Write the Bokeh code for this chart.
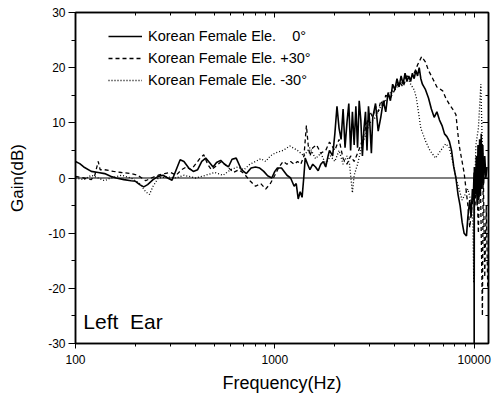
from bokeh.plotting import figure
from bokeh.models import (LogAxis, LinearAxis, LogTicker, SingleIntervalTicker, Span,
                          Legend, LegendItem, Label, PrintfTickFormatter, Range1d)
from bokeh.embed import file_html
from bokeh.resources import INLINE

series_names = ["Korean Female Ele.    0\u00b0", "Korean Female Ele. +30\u00b0", "Korean Female Ele. -30\u00b0"]

freq_0 = [100, 105, 110, 120, 130, 140, 150, 160, 175, 190, 200, 210, 220, 230, 245, 260, 275, 290, 305,
          320, 335, 350, 370, 390, 410, 430, 450, 470, 490, 510, 535, 560, 585, 610, 640, 680, 720, 760,
          800, 840, 880, 920, 965, 1000, 1030, 1080, 1150, 1200, 1250, 1280, 1310, 1340, 1370, 1400, 1420,
          1460, 1500, 1550, 1600, 1650, 1700, 1750, 1800, 1850, 1880, 1950, 2000, 2050, 2100, 2150, 2200,
          2250, 2300, 2350, 2400, 2450, 2500, 2550, 2600, 2650, 2700, 2750, 2800, 2850, 2900, 2950, 3000,
          3050, 3100, 3200, 3300, 3400, 3500, 3600, 3700, 3800, 3900, 4000, 4100, 4200, 4300, 4400, 4500,
          4600, 4700, 4800, 4900, 5000, 5100, 5200, 5300, 5400, 5500, 5700, 5900, 6100, 6300, 6500, 6700,
          6900, 7100, 7300, 7500, 7700, 7900, 8100, 8300, 8500, 8700, 8900, 9150, 9300, 9500, 9650, 9800,
          9900, 9980, 10000, 10020, 10150, 10250, 10350, 10450, 10550, 10650, 10750, 10850, 10950, 11050,
          11150, 11300, 11450, 11600]
gain_0 = [3.0, 2.6, 2.0, 1.2, 1.0, 0.8, 0.3, 0.0, -0.3, -0.5, -0.6, -1.2, -1.6, -1.2, -0.3, 0.3, 0.5, 0.0, -0.4,
          1.5, 3.3, 3.0, 1.8, 1.2, 1.5, 3.0, 3.6, 2.8, 2.0, 2.8, 3.2, 2.5, 2.0, 3.4, 3.6, 1.5, 0.8, 1.8,
          2.0, 1.8, 1.2, 0.4, 0.0, 1.2, 1.8, 1.8, 0.5, 0.0, -1.5, -1.0, -3.8, -2.5, -3.5, 0.5, 3.6,
          2.5, 1.5, 2.5, 2.0, 1.3, 2.5, 3.0, 2.0, 4.0, 5.0, 4.0, 8.0, 13.0, 9.0, 7.0, 12.5,
          5.5, 10.0, 13.5, 5.0, 12.0, 6.0, 13.0, 5.5, 14.0, 10.5, 4.0, 9.0, 12.0, 5.0, 13.0, 9.5,
          4.5, 11.0, 13.5, 8.5, 11.0, 14.0, 12.0, 15.5, 14.0, 17.0, 16.0, 18.0, 16.5, 18.5, 17.0, 19.0,
          17.5, 18.5, 17.5, 19.0, 18.0, 19.5, 18.5, 20.0, 18.0, 17.0, 16.0, 14.5, 12.5, 11.0, 12.0, 10.5,
          9.5, 8.0, 7.5, 6.7, 5.0, 2.0, 0.0, -3.0, -5.0, -8.0, -10.0, -10.5, -7.0, -4.0, -7.0, -2.0,
          -4.0, 1.0, -30.0, 2.0, -3.0, 4.0, -5.0, 6.0, -4.0, 7.0, -3.0, 8.0, -2.0, 6.0,
          -1.0, 4.0, 0.0, 2.0]

freq_p30 = [100, 110, 120, 125, 130, 133, 140, 155, 170, 190, 205, 215, 225, 240, 260, 280, 300, 320, 340,
            360, 380, 400, 420, 440, 460, 480, 500, 540, 580, 620, 660, 700, 750, 800, 850, 900, 950, 1000,
            1050, 1100, 1150, 1200, 1250, 1300, 1350, 1400, 1440, 1470, 1500, 1550, 1620, 1700, 1800, 1880,
            2000, 2100, 2200, 2300, 2400, 2500, 2600, 2700, 2800, 2900, 3000, 3100, 3200, 3300, 3400, 3500,
            3600, 3800, 4000, 4200, 4400, 4600, 4800, 5000, 5200, 5450, 5700, 5900, 6200, 6500, 6950, 7200,
            7500, 7800, 8100, 8400, 8900, 9300, 9500, 9700, 9900, 10100, 10300, 10500, 10700, 10900, 11000,
            11100, 11300, 11500, 11700]
gain_p30 = [0.3, 0.0, -0.3, 0.5, 3.0, 1.5, 1.5, 1.2, 1.0, 0.8, 0.5, 0.0, -0.5, 0.0, 0.5, 0.8, 1.0, 0.5, 1.5,
            2.0, 1.5, 2.5, 3.5, 4.2, 2.5, 1.5, 2.0, 3.0, 2.0, 1.0, 1.5, 0.8, -0.5, -1.5, -1.0, -2.0, -1.0, 0.5,
            2.0, 3.0, 2.5, 3.0, 2.5, 3.0, 2.5, 4.0, 9.5, 6.0, 4.0, 5.5, 6.0, 4.5, 5.0, 6.5,
            5.0, 7.0, 3.5, 2.5, 4.0, 3.0, 4.5, 6.0, 8.0, 10.0, 12.0, 11.0, 13.0, 12.0, 14.0, 13.0,
            15.0, 14.5, 16.0, 17.5, 16.5, 18.5, 18.0, 19.0, 20.5, 22.0, 21.0, 19.5, 18.0, 16.5, 15.8, 14.5,
            13.4, 12.5, 11.5, 6.0, 1.0, -5.0, -9.0, -6.0, -3.0, -5.0, 0.0, -10.0, 4.0, -15.0, -25.0,
            2.0, -18.0, -5.0, -20.0]

freq_m30 = [100, 110, 120, 130, 140, 150, 170, 190, 210, 225, 235, 245, 260, 290, 320, 350, 400, 450, 500,
            550, 600, 650, 700, 750, 800, 850, 900, 950, 1000, 1100, 1190, 1300, 1400, 1500, 1600, 1700,
            1800, 1900, 2000, 2100, 2200, 2300, 2370, 2450, 2500, 2600, 2700, 2800, 2900, 3000, 3200, 3400,
            3600, 3800, 4000, 4200, 4400, 4600, 4800, 5000, 5130, 5400, 5700, 6000, 6400, 6800, 7200, 7500,
            7800, 8100, 8400, 8700, 9000, 9300, 9600, 9850, 9950, 10050, 10200, 10500, 10800, 11000, 11200]
gain_m30 = [0.0, -0.3, 0.5, 0.0, -0.5, 0.0, 0.5, 0.0, -1.0, -2.5, -3.0, -1.5, 0.0, 0.2, 0.0, 0.5, 0.0, 0.5, 1.0,
            0.5, 1.5, 2.0, 1.5, 2.5, 3.0, 3.5, 3.0, 4.0, 4.5, 5.0, 5.8, 5.0, 4.0, 5.5, 3.5, 4.5,
            2.5, 4.0, 3.0, 5.0, 2.5, 4.0, 2.5, -2.7, 0.5, 2.5, 5.0, 7.0, 8.5, 10.0, 11.0, 13.0,
            14.0, 15.5, 16.0, 17.0, 17.5, 18.5, 17.0, 16.0, 14.5, 9.0, 6.7, 5.0, 3.6, 5.0, 6.2, 5.5,
            3.0, 0.0, -2.0, -4.0, -3.0, -2.0, -4.0, -8.0, -19.0, -3.0, 6.0, 9.0, 17.0, 5.0, 0.0]

p = figure(width=500, height=396, x_axis_type="log", output_backend="svg", toolbar_location=None,
           x_range=Range1d(100, 11800), y_range=Range1d(-30, 30),
           min_border_left=75, min_border_right=12, min_border_top=12, min_border_bottom=53)
p.background_fill_color = "white"
p.border_fill_color = "white"
p.outline_line_color = "black"
p.outline_line_width = 1.5
p.grid.visible = False

font = "Liberation Sans"

# bottom axis
xa = p.xaxis[0]
xa.ticker = LogTicker(num_minor_ticks=10)
xa.formatter = PrintfTickFormatter(format="%d")
xa.axis_label = "Frequency(Hz)"
xa.axis_label_text_font = font
xa.axis_label_text_font_size = "18px"
xa.axis_label_text_font_style = "normal"
xa.axis_label_text_color = "black"
xa.axis_label_standoff = 6
xa.major_label_text_font = font
xa.major_label_text_font_size = "12px"
xa.major_label_text_color = "black"
xa.major_label_standoff = 6
xa.major_tick_out = 5
xa.major_tick_in = 0
xa.minor_tick_out = 3
xa.minor_tick_in = 0
xa.axis_line_width = 1.5
xa.axis_line_color = "black"
xa.major_tick_line_color = "black"
xa.minor_tick_line_color = "black"

# left axis
ya = p.yaxis[0]
ya.ticker = SingleIntervalTicker(interval=10, num_minor_ticks=2)
ya.formatter = PrintfTickFormatter(format="%d")
ya.axis_label = "Gain(dB)"
ya.axis_label_text_font = font
ya.axis_label_text_font_size = "17px"
ya.axis_label_text_font_style = "normal"
ya.axis_label_text_color = "black"
ya.axis_label_standoff = 18
ya.major_label_text_font = font
ya.major_label_text_font_size = "12px"
ya.major_label_text_color = "black"
ya.major_label_standoff = 3
ya.major_tick_out = 7
ya.major_tick_in = 0
ya.minor_tick_out = 4
ya.minor_tick_in = 0
ya.axis_line_width = 1.5
ya.axis_line_color = "black"
ya.major_tick_line_color = "black"
ya.minor_tick_line_color = "black"

# top axis (ticks only)
ta = LogAxis(ticker=LogTicker(num_minor_ticks=10), major_label_text_font_size="1px",
             major_label_text_alpha=0, major_label_standoff=0,
             major_tick_in=5, major_tick_out=0, minor_tick_in=3, minor_tick_out=0,
             axis_line_width=1.5)
p.add_layout(ta, "above")
# right axis (ticks only)
ra = LinearAxis(ticker=SingleIntervalTicker(interval=10, num_minor_ticks=2), major_label_text_font_size="1px",
                major_label_text_alpha=0, major_label_standoff=0,
                major_tick_in=6, major_tick_out=0, minor_tick_in=3, minor_tick_out=0,
                axis_line_width=1.5)
p.add_layout(ra, "right")

p.add_layout(Span(location=0, dimension="width", line_color="black", line_width=1.2))

r0 = p.line(freq_0, gain_0, line_color="black", line_width=1.6)
r1 = p.line(freq_p30, gain_p30, line_color="black", line_width=1.3, line_dash="4 3")
r2 = p.line(freq_m30, gain_m30, line_color="black", line_width=1.3, line_dash="1 2")

legend = Legend(items=[LegendItem(label=series_names[0], renderers=[r0]),
                       LegendItem(label=series_names[1], renderers=[r1]),
                       LegendItem(label=series_names[2], renderers=[r2])],
                location=(33, 252), border_line_color=None, background_fill_alpha=0,
                label_text_font=font, label_text_font_size="14.5px", label_text_color="black",
                glyph_width=34, glyph_height=22,
                label_height=22, spacing=0, padding=0, margin=0, label_standoff=6)
p.add_layout(legend, "center")

p.add_layout(Label(x=109.5, y=-26, text="Left\u00a0\u00a0Ear", text_font=font, text_font_size="21px",
                   text_baseline="middle", text_align="left", text_color="black"))

open("out.html", "w").write(file_html(p, INLINE))
